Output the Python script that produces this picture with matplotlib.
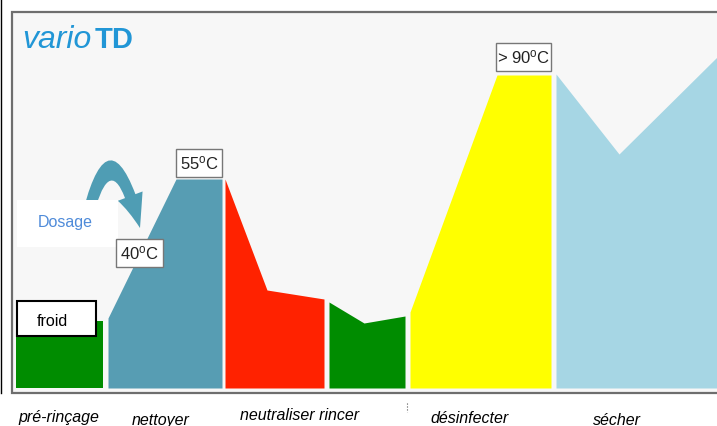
import matplotlib
matplotlib.use("Agg")
import matplotlib.pyplot as plt
from matplotlib.patches import Rectangle, FancyArrowPatch
from matplotlib.path import Path

plt.rcParams['font.family'] = ['Liberation Sans', 'DejaVu Sans']
plt.rcParams['mathtext.fontset'] = 'custom'
plt.rcParams['mathtext.rm'] = 'Liberation Sans'
plt.rcParams['mathtext.it'] = 'Liberation Sans:italic'

# cycle profile per phase: position along the cycle / level above base line
pre_x = [16, 103]
pre_h = [67, 67]
net_x = [108, 176, 222]
net_h = [70, 209, 209]
neu_x = [225, 267, 324]
neu_h = [209, 98, 89]
rin_x = [329, 364, 405]
rin_h = [86, 65, 72]
des_x = [410, 497, 551]
des_h = [76, 313, 313]
sec_x = [556, 619, 717]
sec_h = [314, 234, 331]

phase_labels = ["pré-rinçage", "nettoyer", "neutraliser rincer", "désinfecter", "sécher"]
temp_labels = ["40", "55", "> 90"]

BASE = 388   # pixel row of the profile base line
def py(v):
    return BASE - v

fig = plt.figure(figsize=(7.17, 4.26), dpi=100)
ax = fig.add_axes([0, 0, 1, 1])
ax.set_xlim(0, 717)
ax.set_ylim(BASE - 426, BASE)
ax.axis('off')

# frame
ax.add_patch(Rectangle((12, py(393)), 730, 393 - 12, facecolor='#f7f7f7',
                       edgecolor='#6e6e6e', lw=1.6, zorder=0))
ax.plot([0.6, 0.6], [py(0), py(393)], color='black', lw=1.0, zorder=1)
ax.plot([407, 407], [py(403), py(412)], color='#555555', lw=0.8, ls=':', zorder=1)

profiles = [(pre_x, pre_h, '#008c00'), (net_x, net_h, '#579db3'),
            (neu_x, neu_h, '#ff2200'), (rin_x, rin_h, '#008c00'),
            (des_x, des_h, '#ffff00'), (sec_x, sec_h, '#a6d6e4')]
for x, h, c in profiles:
    ax.fill_between(x, 0, h, color=c, lw=0, zorder=2)

# title
ax.text(22, py(48), 'vario', style='italic', fontsize=23, color='#2196d6', va='baseline')
ax.text(95, py(48), 'TD', weight='bold', fontsize=21, color='#2196d6', va='baseline')

# dosage arrow
arc = Path([(86, py(222)), (111, py(116)), (140, py(228))],
           [Path.MOVETO, Path.CURVE3, Path.CURVE3])
ax.add_patch(FancyArrowPatch(path=arc, arrowstyle='simple,head_width=19,head_length=24,tail_width=8',
                             mutation_scale=1, color='#4f9db4', lw=0, zorder=3))
ax.add_patch(Rectangle((17, py(247)), 101, 47, facecolor='white', lw=0, zorder=4))
ax.text(65, py(222), 'Dosage', fontsize=11.5, color='#4f8bd9', ha='center', va='center', zorder=5)

# froid box
ax.add_patch(Rectangle((17, py(336)), 79, 35, facecolor='white', edgecolor='black', lw=1.5, zorder=4))
ax.text(52, py(321), 'froid', fontsize=11.5, ha='center', va='center', zorder=5)

# temperature boxes
tboxes = [(116, 239, 47), (176, 149, 46), (496, 43, 55)]
for (bx, by, bw), t in zip(tboxes, temp_labels):
    ax.add_patch(Rectangle((bx, py(by + 28)), bw, 28, facecolor='white',
                           edgecolor='#777777', lw=1.0, zorder=4))
    ax.text(bx + bw / 2, py(by + 14), t + r'$^{\rm o}$C', fontsize=12,
            ha='center', va='center', color='#222222', zorder=5)

# phase names
lab_pos = [(59, 422), (161, 425), (300, 420), (470, 423), (617, 425)]
for (lx, ly), s in zip(lab_pos, phase_labels):
    ax.text(lx, py(ly), s, style='italic', fontsize=11.5, ha='center', va='baseline')

fig.savefig('out.png', dpi=100)
